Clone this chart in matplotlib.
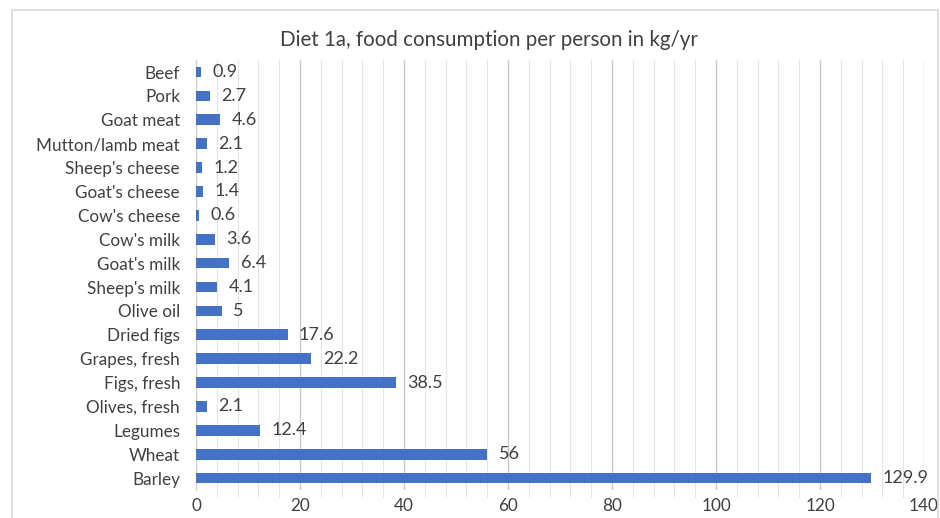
import numpy as np
import matplotlib
matplotlib.use("Agg")
import matplotlib.pyplot as plt
from matplotlib.patches import Rectangle
from matplotlib.ticker import MultipleLocator

plt.rcParams['font.family'] = ['Lato', 'DejaVu Sans']

foods = ["Beef", "Pork", "Goat meat", "Mutton/lamb meat", "Sheep's cheese",
         "Goat's cheese", "Cow's cheese", "Cow's milk", "Goat's milk",
         "Sheep's milk", "Olive oil", "Dried figs", "Grapes, fresh",
         "Figs, fresh", "Olives, fresh", "Legumes", "Wheat", "Barley"]
kg_per_year = [0.9, 2.7, 4.6, 2.1, 1.2, 1.4, 0.6, 3.6, 6.4, 4.1, 5, 17.6,
               22.2, 38.5, 2.1, 12.4, 56, 129.9]
value_labels = ["0.9", "2.7", "4.6", "2.1", "1.2", "1.4", "0.6", "3.6", "6.4",
                "4.1", "5", "17.6", "22.2", "38.5", "2.1", "12.4", "56", "129.9"]

fig = plt.figure(figsize=(9.4, 5.18), dpi=100)
# chart frame like the excel chart area
fig.patches.append(Rectangle((12 / 940, -0.05), 926 / 940, 1 - 10 / 518 + 0.05,
                             transform=fig.transFigure, fill=False,
                             edgecolor="#d9d9d9", linewidth=1.2))

ax = fig.add_axes([0.2085, 0.054, 0.7745, 0.83])
y = np.arange(len(foods))
ax.barh(y, kg_per_year, height=0.45, color="#4472C4", zorder=3)
for yi, v, lab in zip(y, kg_per_year, value_labels):
    ax.text(v + 2.2, yi, lab, va="center", ha="left", fontsize=13, color="#404040")

ax.set_yticks(y)
ax.set_yticklabels(foods, fontsize=12.3, color="#404040")
ax.set_ylim(len(foods) - 0.5, -0.5)
ax.set_xlim(0, 140)
ax.xaxis.set_major_locator(MultipleLocator(20))
ax.xaxis.set_minor_locator(MultipleLocator(4))
ax.tick_params(axis="x", which="major", labelsize=12.3, labelcolor="#404040",
               length=0, pad=6)
ax.tick_params(axis="x", which="minor", length=5, color="#d9d9d9")
ax.tick_params(axis="y", length=0, pad=11.5)
ax.grid(axis="x", which="major", color="#c8c8c8", linewidth=1, zorder=0)
ax.grid(axis="x", which="minor", color="#e4e4e4", linewidth=0.8, zorder=0)
for s in ["top", "right", "bottom"]:
    ax.spines[s].set_visible(False)
ax.spines["left"].set_color("#d0d0d0")

fig.text(0.52, 0.923, "Diet 1a, food consumption per person in kg/yr",
         ha="center", va="center", fontsize=14.8, color="#404040")

fig.savefig("out.png", dpi=100)
